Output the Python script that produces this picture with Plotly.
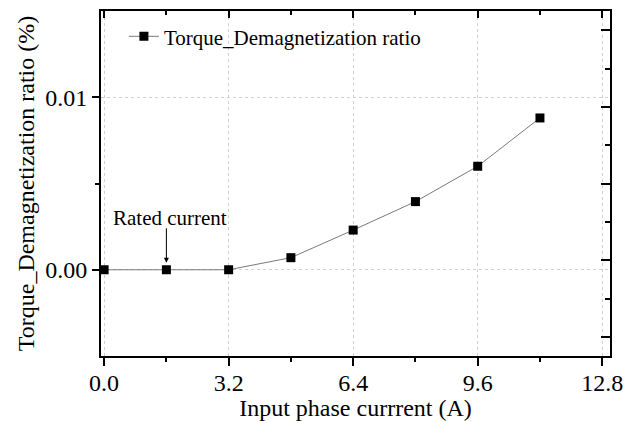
import plotly.graph_objects as go

current = [0.0, 1.6, 3.2, 4.8, 6.4, 8.0, 9.6, 11.2]
ratio = [0.0, 0.0, 0.0, 0.0007, 0.0023, 0.00395, 0.0060, 0.0088]
x_ticks = [0.0, 3.2, 6.4, 9.6, 12.8]
x_ticktext = ["0.0", "3.2", "6.4", "9.6", "12.8"]
x_minor = [1.6, 4.8, 8.0, 11.2]
y_ticks = [0.0, 0.01]
y_ticktext = ["0.00", "0.01"]
y_minor = [0.005]
rated_x = 1.6

FONT = "Liberation Serif"

fig = go.Figure()
fig.add_trace(go.Scatter(
    x=current, y=ratio, mode="lines+markers",
    name="Torque_Demagnetization ratio",
    line=dict(color="#7a7a7a", width=1),
    marker=dict(symbol="square", size=9, color="black"),
))
# helper trace so the mirror axes are drawn
fig.add_trace(go.Scatter(x=[None], y=[None], xaxis="x2", yaxis="y2",
                         showlegend=False, hoverinfo="skip"))

# label text
fig.add_annotation(
    x=rated_x, y=0.0, xref="x", yref="y",
    text="Rated current", showarrow=False,
    xshift=4, yshift=52,
    font=dict(family=FONT, size=21, color="black"),
)
# arrow
fig.add_annotation(
    x=rated_x, y=0.0, xref="x", yref="y",
    text="", showarrow=True, font=dict(size=1),
    ax=0, ay=-43, arrowhead=2, arrowsize=1, arrowwidth=1,
    arrowcolor="black", standoff=7,
)

fig.update_layout(
    width=624, height=421,
    margin=dict(l=101, r=14, t=11, b=65, autoexpand=False),
    paper_bgcolor="white", plot_bgcolor="white",
    font=dict(family=FONT, size=24, color="black"),
    showlegend=True,
    legend=dict(x=0.045, y=0.985, xanchor="left", yanchor="top",
                bgcolor="rgba(0,0,0,0)", font=dict(family=FONT, size=21)),
    xaxis=dict(
        range=[-0.08, 13.0], tickvals=x_ticks, ticktext=x_ticktext,
        ticks="outside", ticklen=8, tickwidth=1.5, tickcolor="black",
        ticklabelstandoff=-4,
        showline=True, linewidth=2, linecolor="black",
        showgrid=True, gridcolor="#d0d0d0", griddash="dot", gridwidth=1,
        zeroline=False, automargin=False,
        minor=dict(tickvals=x_minor, ticks="outside", ticklen=4,
                   tickwidth=1.5, tickcolor="black", showgrid=False),
        title=dict(text="Input phase currrent (A)", standoff=2,
                   font=dict(family=FONT, size=24)),
        tickfont=dict(family=FONT, size=24),
    ),
    yaxis=dict(
        range=[-0.005, 0.015], tickvals=y_ticks, ticktext=y_ticktext,
        ticks="outside", ticklen=7, tickwidth=1.5, tickcolor="black",
        showline=True, linewidth=2, linecolor="black",
        showgrid=True, gridcolor="#d0d0d0", griddash="dot", gridwidth=1,
        zeroline=False, automargin=False,
        minor=dict(tickvals=y_minor, ticks="outside", ticklen=4,
                   tickwidth=1.5, tickcolor="black", showgrid=False),
        title=dict(text="Torque_Demagnetization ratio (%)", standoff=4,
                   font=dict(family=FONT, size=24)),
        tickfont=dict(family=FONT, size=24),
    ),
    xaxis2=dict(
        overlaying="x", side="top", matches="x", range=[-0.08, 13.0],
        tickmode="array", tickvals=x_ticks, showticklabels=False,
        ticks="inside", ticklen=7, tickwidth=1.5, tickcolor="black",
        showline=True, linewidth=2, linecolor="black",
        showgrid=False, zeroline=False, automargin=False,
        minor=dict(tickvals=x_minor, ticks="inside", ticklen=4,
                   tickwidth=1.5, tickcolor="black", showgrid=False),
    ),
    yaxis2=dict(
        overlaying="y", side="right", range=[-0.5, 8.5],
        tickmode="linear", tick0=0, dtick=2, showticklabels=False,
        ticks="inside", ticklen=9, tickwidth=1.5, tickcolor="black",
        showline=True, linewidth=2, linecolor="black",
        showgrid=False, zeroline=False, automargin=False,
        minor=dict(tick0=1, dtick=2, ticks="inside", ticklen=5,
                   tickwidth=1.5, tickcolor="black", showgrid=False),
    ),
)

fig.write_html(
    "out.html",
    config={"displayModeBar": False},
    post_script="document.body.style.margin='0';document.body.style.overflow='hidden';",
)
